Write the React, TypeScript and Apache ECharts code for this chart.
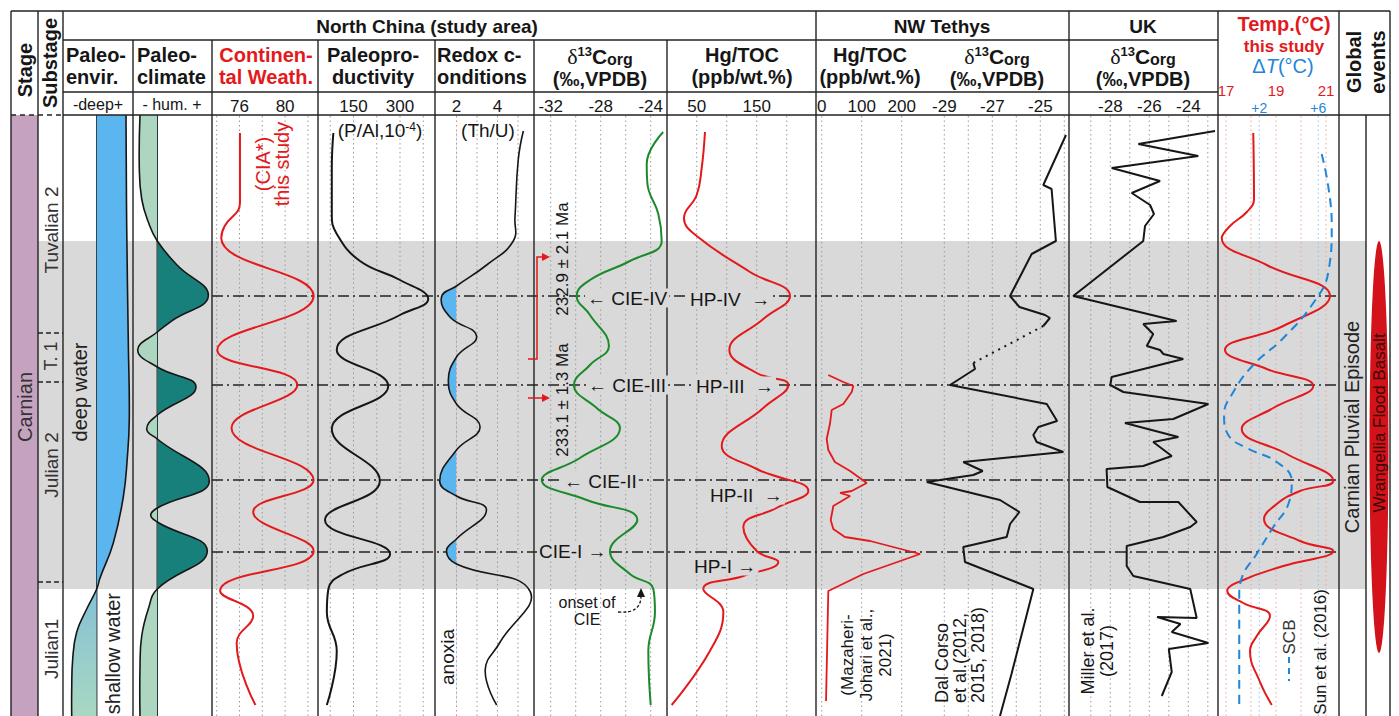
import React, { useEffect, useRef } from 'react';
import * as echarts from 'echarts';

// ===== Data (stratigraphic height in relative units: 0 = base of shown section, 601 = top) =====
const SECTION_TOP = 601;
const cpeInterval = [127, 475]; // grey band (Carnian Pluvial Episode)
const eventLevels = [420, 331, 236, 164]; // CIE-IV, CIE-III, CIE-II, CIE-I
const substageBounds = [383, 334, 134];

// Paleo-environment (relative water depth) and paleoclimate (relative humidity)
const envirBaseline = 3.37;
const envirCurve = [[6.3, 601], [6.37, 490], [6.53, 374], [6.63, 297], [6.43, 258], [6.03, 219], [5.03, 173], [3.7, 138], [3.37, 127], [2.37, 107], [1.37, 84], [0.97, 57], [0.87, 26], [0.87, 0]];
const climateBaseline = 2.43;
const climateCurve = [[0.7, 601], [0.63, 548], [0.87, 517], [1.53, 494], [2.43, 475], [4.4, 451], [7.53, 420], [4.0, 396], [2.43, 384], [0.47, 366], [2.43, 349], [6.3, 329], [2.43, 301], [1.37, 287], [2.43, 277], [7.63, 235], [2.43, 208], [1.77, 201], [2.43, 194], [7.43, 165], [2.43, 127], [1.53, 107], [0.87, 80], [0.7, 49], [0.7, 0]];

// North China (study area)
const ciaCurve = [[76.04, 583], [76.04, 513], [74.7, 490], [74.4, 478], [82.5, 420], [74.05, 366], [81.07, 331], [75.3, 288], [82.5, 236], [77.2, 204], [82.5, 165], [74.3, 125], [77.2, 100], [75.75, 73], [77.4, 11]];
const pAlCurve = [[85, 583], [80, 548], [80, 502], [96, 482], [171, 455], [300, 436], [391, 417], [300, 401], [96, 366], [262, 330], [80, 287], [235, 235], [58, 196], [268, 162], [117, 142], [69, 127], [64, 104], [96, 65], [64, 11]];
const thuAnoxia = 2;
const thuCurve = [[5.26, 585], [5.01, 556], [4.85, 498], [4.77, 475], [3.47, 451], [2.0, 430], [1.27, 419], [1.68, 399], [2.98, 380], [2.0, 359], [1.6, 335], [2.0, 312], [3.15, 289], [2.0, 266], [1.18, 235], [2.0, 220], [3.46, 206], [2.0, 177], [1.51, 165], [2.0, 152], [5.58, 125], [4.1, 73], [3.4, 46], [3.96, 11]];
const c13Curve = [[-23.0, 584], [-24.32, 552], [-24.27, 533], [-23.39, 502], [-23.12, 475], [-25.66, 455], [-28.86, 436], [-29.92, 420], [-28.86, 401], [-27.34, 370], [-28.86, 351], [-30.14, 331], [-28.32, 308], [-26.46, 288], [-29.66, 258], [-32.72, 236], [-29.12, 216], [-25.07, 196], [-27.26, 165], [-25.66, 142], [-23.79, 127], [-23.66, 104], [-24.19, 65], [-24.0, 11]];
const hgCurve = [[63.8, 584], [58.3, 548], [50, 521], [28.8, 498], [50, 480], [138.8, 444], [205.5, 420], [161, 397], [104.4, 366], [150, 343], [202.7, 331], [161, 308], [91.7, 270], [150, 247], [236, 225], [183, 208], [127.7, 189], [150, 165], [186, 154], [127.7, 140], [61, 127], [94.4, 104], [72, 65], [8.3, 11]];

// NW Tethys
const hgNWCurve = [[16.5, 341], [54, 334], [79, 330], [75, 324], [54, 312], [25, 306], [21, 293], [12.5, 277], [16.5, 266], [33, 254], [71, 245], [112.5, 233], [75, 225], [46, 223], [71, 220], [29, 210], [22.5, 196], [29, 187], [58, 179], [121, 175], [246, 162], [104, 142], [16.5, 125], [10.8, 15]];
const c13NWUpper = [[-23.93, 581], [-24.875, 531], [-24.53, 527], [-24.35, 475], [-25.36, 462], [-26.26, 420], [-25.87, 409], [-24.8, 401], [-24.6, 398], [-24.875, 390]];
const c13NWGap = [[-24.875, 390], [-27.79, 353]];
const c13NWLower = [[-27.79, 353], [-27.72, 347], [-28.76, 331], [-24.73, 312], [-24.3, 295], [-25.08, 289], [-25.29, 281], [-25.15, 274], [-24.04, 264], [-28.21, 254], [-27.4, 245], [-27.79, 241], [-29.73, 234], [-26.68, 216], [-25.87, 204], [-26.26, 192], [-26.4, 179], [-28.21, 169], [-28.14, 154], [-25.29, 127], [-25.75, 84], [-26.2, 42], [-26.68, 0]];

// UK
const c13UKCurve = [[-22.63, 585], [-26.56, 572], [-23.49, 560], [-27.93, 548], [-25.45, 535], [-26.9, 523], [-25.96, 511], [-25.76, 502], [-26.22, 490], [-26.31, 475], [-29.9, 420], [-24.6, 395], [-26.31, 392], [-25.8, 382], [-26.13, 370], [-25.45, 366], [-25.28, 362], [-24.26, 357], [-27.93, 339], [-28.0, 331], [-27.33, 324], [-22.97, 312], [-24.77, 297], [-27.25, 293], [-24.51, 279], [-25.8, 274], [-24.85, 260], [-26.31, 250], [-28.19, 247], [-28.15, 229], [-26.48, 214], [-24.51, 214], [-23.57, 194], [-23.9, 189], [-25.28, 179], [-27.16, 170], [-27.16, 150], [-26.82, 140], [-23.9, 127], [-23.57, 98], [-25.6, 99], [-24.4, 92], [-24.85, 84], [-22.97, 73], [-25.0, 67], [-24.85, 44], [-25.36, 20]];

// Temperature (this study) and ΔT (SCB, Sun et al. 2016)
const tempCurve = [[18.09, 583], [18.12, 517], [17.83, 504], [17.16, 490], [16.83, 478], [18.63, 451], [21.16, 420], [19.29, 390], [16.96, 366], [18.63, 347], [20.49, 330], [18.89, 308], [17.63, 287], [19.43, 262], [21.29, 235], [19.96, 225], [19.03, 212], [18.52, 197], [19.96, 175], [21.29, 165], [19.29, 150], [17.69, 136], [17.05, 125], [17.69, 113], [18.76, 100], [18.23, 80], [17.96, 65], [18.36, 34], [18.83, 11]];
const dTCurve = [[6.23, 562], [6.68, 529], [6.91, 490], [6.68, 444], [5.66, 413], [3.63, 378], [1.59, 351], [0.24, 324], [-0.39, 301], [-0.1, 281], [1.15, 268], [3.18, 254], [4.2, 235], [3.97, 212], [2.95, 189], [1.82, 162], [0.81, 138], [0.64, 119], [0.64, 11]];

// Tick labels and grid lines
const tickLabels: any = {
  cia: [76, 80], pal: [150, 300], thu: [2, 4], c13: [-32, -28, -24], hg: [50, 150],
  hgnw: [0, 100, 200], c13nw: [-29, -27, -25], c13uk: [-28, -26, -24], temp: [17, 19, 21],
};
const dTTicks = [2, 6];
const gridValues: any = {
  cia: [74, 76, 78, 80, 82], pal: [75, 150, 225, 300, 375], thu: [3, 4, 5], c13: [-32, -30, -28, -26, -24],
  hg: [50, 100, 150, 200], hgnw: [0, 100, 200], c13nw: [-29, -28, -27, -26, -25, -24],
  c13uk: [-29, -28, -27, -26, -25, -24, -23], temp: [17, 18, 19, 20, 21],
};
const dTGrid = [2, 6];

// ===== Styling / layout =====
const FONT = '"Liberation Sans", Arial, Helvetica, sans-serif';
const SERIF = '"Liberation Serif", "DejaVu Serif", serif';
const RED = '#e3191c';
const BLUE = '#1f86d9';
const GREEN = '#1a8a2a';
const INK = '#161616';
const BAND = '#d9d9d9';

const columns = [
  { key: 'band', left: 38, width: 1328, min: 0, max: 1 },
  { key: 'events', left: 212, width: 1127, min: 0, max: 1 },
  { key: 'sub', left: 38, width: 25, min: 0, max: 1 },
  { key: 'envir', left: 63, width: 70, min: 0, max: 7 },
  { key: 'climate', left: 133, width: 79, min: 0, max: 7.9 },
  { key: 'cia', left: 212, width: 106, min: 73.588, max: 82.886 },
  { key: 'pal', left: 318, width: 117, min: 35.48, max: 412.9 },
  { key: 'thu', left: 435, width: 99, min: 0.951, max: 5.78 },
  { key: 'c13', left: 534, width: 133, min: -33.336, max: -22.696 },
  { key: 'hg', left: 667, width: 149, min: 0.5, max: 248.8 },
  { key: 'hgnw', left: 816, width: 109, min: -14.25, max: 258.25 },
  { key: 'c13nw', left: 925, width: 144, min: -29.804, max: -23.804 },
  { key: 'c13uk', left: 1069, width: 149, min: -30.118, max: -22.477 },
  { key: 'temp', left: 1218, width: 121, min: 16.68, max: 21.52 },
];
const idx: any = {};
columns.forEach((c, i) => (idx[c.key] = i));
const DT_AXIS = columns.length;

function gridSeries(key: string, values: number[], color: string, xAxisIndex?: number, dash: any = [1.5, 3], width = 1) {
  const i = idx[key];
  return {
    type: 'custom', xAxisIndex: xAxisIndex ?? i, yAxisIndex: i, z: 1, silent: true,
    data: values.map((v) => [v, 0]),
    renderItem: (_p: any, api: any) => {
      const v = api.value(0);
      const a = api.coord([v, 0]);
      const b = api.coord([v, SECTION_TOP]);
      return { type: 'line', shape: { x1: a[0], y1: a[1], x2: b[0], y2: b[1] }, style: { stroke: color, lineWidth: width, lineDash: dash } };
    },
  };
}

function curve(key: string, data: number[][], color: string, o: any = {}) {
  const i = idx[key];
  return {
    type: 'line', xAxisIndex: o.xAxisIndex ?? i, yAxisIndex: i, data, symbol: 'none', showSymbol: false,
    smooth: o.smooth ?? 0.45, z: 3, silent: true,
    lineStyle: { color, width: o.width ?? 2, type: o.dash ?? 'solid' },
  };
}

function profile(key: string, pts: number[][], base: number, posFill: any, negFill: any, stroke: string) {
  const i = idx[key];
  const SM = 0.45;
  return {
    type: 'custom', xAxisIndex: i, yAxisIndex: i, z: 2, silent: true, data: pts,
    renderItem: (params: any, api: any) => {
      if (params.dataIndex !== 0) return null;
      const cs = params.coordSys;
      const P = pts.map((p) => api.coord(p));
      const bx = api.coord([base, 0])[0];
      const first = P[0];
      const last = P[P.length - 1];
      // end points doubled so the fill edge follows the outline exactly
      const fillPts = [[bx, first[1]], first, ...P, last, [bx, last[1]]];
      const children: any[] = [];
      if (posFill) {
        children.push({
          type: 'polyline', shape: { points: fillPts, smooth: SM }, style: { fill: posFill, stroke: 'none', lineWidth: 0 },
          clipPath: { type: 'rect', shape: { x: bx, y: cs.y, width: cs.x + cs.width - bx, height: cs.height } },
        });
      }
      if (negFill) {
        const fill = typeof negFill === 'function' ? negFill(api) : negFill;
        children.push({
          type: 'polyline', shape: { points: fillPts, smooth: SM }, style: { fill, stroke: 'none', lineWidth: 0 },
          clipPath: { type: 'rect', shape: { x: cs.x, y: cs.y, width: bx - cs.x, height: cs.height } },
        });
      }
      children.push({ type: 'polyline', shape: { points: P, smooth: SM }, style: { fill: 'none', stroke, lineWidth: 1.6 } });
      return { type: 'group', children };
    },
  };
}

function txt(x: number, y: number, text: string, o: any = {}) {
  const style: any = {
    text, fill: o.color || INK, fontSize: o.size || 20, fontFamily: o.family || FONT,
    fontWeight: o.bold ? 'bold' : 'normal', fontStyle: o.italic ? 'italic' : 'normal',
    align: o.align || 'center', verticalAlign: o.va || 'middle',
  };
  if (o.lh) style.lineHeight = o.lh;
  if (o.bg) { style.backgroundColor = o.bg; style.padding = o.pad || [0, 2]; }
  if (o.rich) style.rich = o.rich;
  return { type: 'text', x, y, z: 70, silent: true, rotation: o.rot ? Math.PI / 2 : 0, style };
}
function ln(x1: number, y1: number, x2: number, y2: number, o: any = {}) {
  const style: any = { stroke: o.color || '#222', lineWidth: o.w || 1.4 };
  if (o.dash) style.lineDash = o.dash;
  return { type: 'line', z: o.z ?? 60, silent: true, shape: { x1, y1, x2, y2 }, style };
}

function buildOption() {
  const grid = columns.map((c) => ({ left: c.left, width: c.width, top: 115, height: 601 }));
  const yAxis = columns.map((_c, i) => ({ type: 'value', gridIndex: i, min: 0, max: SECTION_TOP, show: false }));
  const xAxis: any[] = columns.map((c, i) => {
    const ticks = tickLabels[c.key];
    const isTemp = c.key === 'temp';
    return {
      type: 'value', gridIndex: i, min: c.min, max: c.max, position: 'top', show: !!ticks,
      offset: isTemp ? 17 : 0,
      axisLine: { show: false }, axisTick: { show: false }, splitLine: { show: false },
      axisLabel: ticks
        ? { show: true, customValues: ticks, color: isTemp ? RED : INK, fontSize: isTemp ? 15 : 17, fontFamily: FONT, margin: 0 }
        : { show: false },
    };
  });
  xAxis.push({
    type: 'value', gridIndex: idx.temp, min: -0.8, max: 7.403, position: 'top', offset: 0,
    axisLine: { show: false }, axisTick: { show: false }, splitLine: { show: false },
    axisLabel: { show: true, customValues: dTTicks, color: BLUE, fontSize: 14, fontFamily: FONT, margin: 0, formatter: '+{value}' },
  });

  const envirLowFill = (api: any) => {
    const y0 = api.coord([0, cpeInterval[0]])[1];
    const y1 = api.coord([0, 0])[1];
    return new echarts.graphic.LinearGradient(0, y0, 0, y1, [{ offset: 0, color: '#84c1d6' }, { offset: 1, color: '#a9d7c2' }], true);
  };

  const series: any[] = [
    {
      type: 'custom', xAxisIndex: idx.band, yAxisIndex: idx.band, z: 0, silent: true,
      data: [[0, cpeInterval[0], cpeInterval[1]]], encode: { x: 0, y: [1, 2] },
      renderItem: (_p: any, api: any) => {
        const a = api.coord([0, api.value(2)]);
        const b = api.coord([1, api.value(1)]);
        return { type: 'rect', shape: { x: a[0], y: a[1], width: b[0] - a[0], height: b[1] - a[1] }, style: { fill: BAND } };
      },
    },
    {
      type: 'custom', xAxisIndex: idx.events, yAxisIndex: idx.events, z: 1.5, silent: true,
      data: eventLevels.map((h) => [0, h]),
      renderItem: (_p: any, api: any) => {
        const h = api.value(1);
        const a = api.coord([0, h]);
        const b = api.coord([1, h]);
        return { type: 'line', shape: { x1: a[0], y1: a[1], x2: b[0], y2: b[1] }, style: { stroke: '#222', lineWidth: 1.3, lineDash: [11, 4, 2, 4] } };
      },
    },
    {
      type: 'custom', xAxisIndex: idx.sub, yAxisIndex: idx.sub, z: 4, silent: true,
      data: substageBounds.map((h) => [0, h]),
      renderItem: (_p: any, api: any) => {
        const h = api.value(1);
        const a = api.coord([0, h]);
        const b = api.coord([1, h]);
        return { type: 'line', shape: { x1: a[0], y1: a[1], x2: b[0], y2: b[1] }, style: { stroke: '#222', lineWidth: 1.4, lineDash: [5, 3] } };
      },
    },
    profile('envir', envirCurve, envirBaseline, '#5bb5ef', envirLowFill, INK),
    gridSeries('envir', [envirBaseline], INK, undefined, null, 1.4),
    profile('climate', climateCurve, climateBaseline, '#17807a', '#acd6bf', INK),
    gridSeries('climate', [climateBaseline], INK, undefined, null, 1.4),
    gridSeries('cia', gridValues.cia, '#9a9a9a'),
    gridSeries('pal', gridValues.pal, '#9a9a9a'),
    gridSeries('thu', gridValues.thu, '#9a9a9a'),
    gridSeries('thu', [thuAnoxia], '#f07a7a'),
    gridSeries('c13', gridValues.c13, '#9a9a9a'),
    gridSeries('hg', gridValues.hg, '#9a9a9a'),
    gridSeries('hgnw', gridValues.hgnw, '#9a9a9a'),
    gridSeries('c13nw', gridValues.c13nw, '#9a9a9a'),
    gridSeries('c13uk', gridValues.c13uk, '#9a9a9a'),
    gridSeries('temp', gridValues.temp, '#f3a0a0'),
    gridSeries('temp', dTGrid, '#8cc4ee', DT_AXIS),
    curve('cia', ciaCurve, RED),
    curve('pal', pAlCurve, INK),
    profile('thu', thuCurve, thuAnoxia, null, '#5bb5ef', INK),
    curve('c13', c13Curve, GREEN),
    curve('hg', hgCurve, RED),
    curve('hgnw', hgNWCurve, RED, { smooth: 0, width: 1.8 }),
    curve('c13nw', c13NWUpper, INK, { smooth: 0 }),
    curve('c13nw', c13NWGap, INK, { smooth: 0, dash: [2, 5] }),
    curve('c13nw', c13NWLower, INK, { smooth: 0 }),
    curve('c13uk', c13UKCurve, INK, { smooth: 0 }),
    curve('temp', tempCurve, RED),
    curve('temp', dTCurve, BLUE, { xAxisIndex: DT_AXIS, dash: [9, 6] }),
  ];

  const deltaRich = {
    d: { fontFamily: SERIF, fontSize: 22, fill: INK },
    s: { fontFamily: FONT, fontSize: 13, fontWeight: 'bold', fill: INK, verticalAlign: 'top' },
    c: { fontFamily: FONT, fontSize: 21, fontWeight: 'bold', fill: INK },
    o: { fontFamily: FONT, fontSize: 16, fontWeight: 'bold', fill: INK, verticalAlign: 'bottom' },
  };
  const deltaTitle = (cx: number) => [
    txt(cx, 56, '{d|δ}{s|13}{c|C}{o|org}', { rich: deltaRich }),
    txt(cx, 79, '(‰,VPDB)', { bold: true, size: 20 }),
  ];

  const frame: any[] = [
    ln(11, 11, 1390, 11), ln(63, 40, 1218, 40), ln(63, 92, 1218, 92), ln(63, 115, 1390, 115),
    ln(11, 115, 63, 115, { dash: [5, 4] }),
    ln(11, 11, 11, 716), ln(38, 11, 38, 716), ln(63, 11, 63, 716), ln(1390, 11, 1390, 716),
    ...[133, 212, 318, 435, 534, 667].map((x) => ln(x, 40, x, 716)),
    ...[816, 1069, 1218, 1339].map((x) => ln(x, 11, x, 716)),
    ln(1366, 115, 1366, 716),
  ];

  const labelBg = { bg: BAND, size: 19, align: 'left' };
  const texts: any[] = [
    // header row 1
    txt(427, 26, 'North China (study area)', { bold: true, size: 19 }),
    txt(942, 26, 'NW Tethys', { bold: true, size: 19 }),
    txt(1143, 26, 'UK', { bold: true, size: 19 }),
    txt(25, 70, 'Stage', { bold: true, rot: true }),
    txt(50, 63, 'Substage', { bold: true, rot: true }),
    txt(1366, 62, 'Global\nevents', { bold: true, rot: true, lh: 24 }),
    // temp header
    txt(1284, 24, 'Temp.(°C)', { bold: true, color: RED }),
    txt(1284, 46, 'this study', { bold: true, size: 17, color: RED }),
    txt(1283, 66, '{a|Δ}{t|T}{a|(°C)}', {
      rich: { a: { fontFamily: FONT, fontSize: 20, fill: BLUE }, t: { fontFamily: FONT, fontSize: 20, fill: BLUE, fontStyle: 'italic' } },
    }),
    // header row 2
    txt(66, 55, 'Paleo-', { bold: true, align: 'left' }), txt(66, 77, 'envir.', { bold: true, align: 'left' }),
    txt(137, 55, 'Paleo-', { bold: true, align: 'left' }), txt(137, 77, 'climate', { bold: true, align: 'left' }),
    txt(266, 55, 'Continen-', { bold: true, color: RED }), txt(266, 77, 'tal Weath.', { bold: true, color: RED }),
    txt(373, 55, 'Paleopro-', { bold: true }), txt(373, 77, 'ductivity', { bold: true }),
    txt(437, 55, 'Redox c-', { bold: true, align: 'left' }), txt(437, 77, 'onditions', { bold: true, align: 'left' }),
    ...deltaTitle(600),
    txt(742, 55, 'Hg/TOC', { bold: true }), txt(742, 77, '(ppb/wt.%)', { bold: true }),
    txt(870, 55, 'Hg/TOC', { bold: true }), txt(870, 77, '(ppb/wt.%)', { bold: true }),
    ...deltaTitle(997),
    ...deltaTitle(1143),
    // header row 3 (non-numeric)
    txt(98, 104, '-deep+', { size: 16 }),
    txt(172, 104, '- hum. +', { size: 16 }),
    // stage / substage body
    txt(25, 407, 'Carnian', { rot: true, color: '#333' }),
    txt(51, 230, 'Tuvalian 2', { rot: true, color: '#333', size: 19 }),
    txt(51, 356, 'T. 1', { rot: true, color: '#333', size: 18 }),
    txt(51, 465, 'Julian 2', { rot: true, color: '#333', size: 19 }),
    txt(51, 649, 'Julian1', { rot: true, color: '#333', size: 19 }),
    txt(80, 392, 'deep water', { rot: true, color: '#222' }),
    txt(113, 593, 'shallow water', { rot: true, color: '#222', align: 'right' }),
    // column annotations
    txt(272, 164, '(CIA*)\nthis study', { rot: true, color: RED, lh: 19 }),
    txt(380, 130, '{a|(P/Al,10}{s|-4}{a|)}', {
      rich: { a: { fontFamily: FONT, fontSize: 19, fill: INK }, s: { fontFamily: FONT, fontSize: 12, fill: INK, verticalAlign: 'top' } },
    }),
    txt(488, 130, '(Th/U)', { size: 19 }),
    txt(447, 657, 'anoxia', { rot: true, size: 19 }),
    txt(562, 259, '232.9 ± 2.1 Ma', { rot: true, size: 17 }),
    txt(562, 400, '233.1 ± 1.3 Ma', { rot: true, size: 17 }),
    txt(585, 298, '\u2190 CIE-IV', labelBg),
    txt(586, 385, '\u2190 CIE-III', labelBg),
    txt(562, 481, '\u2190 CIE-II', labelBg),
    txt(537, 551, 'CIE-I \u2192', labelBg),
    txt(688, 299, 'HP-IV  \u2192', labelBg),
    txt(694, 386, 'HP-III  \u2192', labelBg),
    txt(708, 495, 'HP-II  \u2192', labelBg),
    txt(692, 566, 'HP-I \u2192', labelBg),
    txt(587, 611, 'onset of\nCIE', { size: 16, lh: 17 }),
    txt(866, 655, '(Mazaheri-\nJohari et al.,\n2021)', { rot: true, size: 17, lh: 19 }),
    txt(960, 703, 'Dal Corso\net al.(2012,\n2015, 2018)', { rot: true, size: 18, lh: 18, align: 'left' }),
    txt(1097, 651, 'Miller et al.\n(2017)', { rot: true, size: 18, lh: 19 }),
    txt(1320, 589, 'Sun et al. (2016)', { rot: true, size: 17, align: 'right' }),
    txt(1289, 637, 'SCB', { rot: true, size: 17, color: '#333' }),
    txt(1352, 427, 'Carnian Pluvial Episode', { rot: true, color: '#222' }),
    txt(1379, 423, 'Wrangellia Flood Basalt', { rot: true, size: 17, color: '#3a0505' }),
  ];

  const shapes: any[] = [
    { type: 'rect', z: 5, silent: true, shape: { x: 11, y: 115, width: 27, height: 601 }, style: { fill: '#c5a3c0' } },
    { type: 'ellipse', z: 20, silent: true, shape: { cx: 1379, cy: 447, rx: 9.5, ry: 206 }, style: { fill: '#d3121a' } },
    ln(1289, 657, 1289, 681, { color: BLUE, w: 2, dash: [6, 5], z: 65 }),
    // age bracket and arrows
    { type: 'polyline', z: 65, silent: true, shape: { points: [[528, 359], [537, 359], [537, 257], [543, 257]] }, style: { stroke: RED, lineWidth: 1.5, fill: 'none' } },
    { type: 'polygon', z: 65, silent: true, shape: { points: [[542, 253], [550, 257], [542, 261]] }, style: { fill: RED } },
    ln(528, 398, 543, 398, { color: RED, w: 1.5, z: 65 }),
    { type: 'polygon', z: 65, silent: true, shape: { points: [[542, 394], [550, 398], [542, 402]] }, style: { fill: RED } },
    // onset arrow
    { type: 'bezierCurve', z: 65, silent: true, shape: { x1: 618, y1: 612, x2: 641, y2: 596, cpx1: 641, cpy1: 614 }, style: { stroke: INK, lineWidth: 1.3, lineDash: [3, 2], fill: 'none' } },
    { type: 'polygon', z: 65, silent: true, shape: { points: [[637, 597], [645, 597], [641, 588]] }, style: { fill: INK } },
  ];

  return {
    animation: false,
    backgroundColor: '#fff',
    grid, xAxis, yAxis, series,
    graphic: { elements: [...shapes, ...frame, ...texts] },
  };
}

export default function App() {
  const ref = useRef<HTMLDivElement>(null);
  useEffect(() => {
    const chart = echarts.init(ref.current as HTMLDivElement, null, { renderer: 'svg' });
    chart.setOption(buildOption() as any);
    return () => chart.dispose();
  }, []);
  return <div ref={ref} style={{ position: 'fixed', left: 0, top: 0, width: 1399, height: 716, background: '#fff' }} />;
}
